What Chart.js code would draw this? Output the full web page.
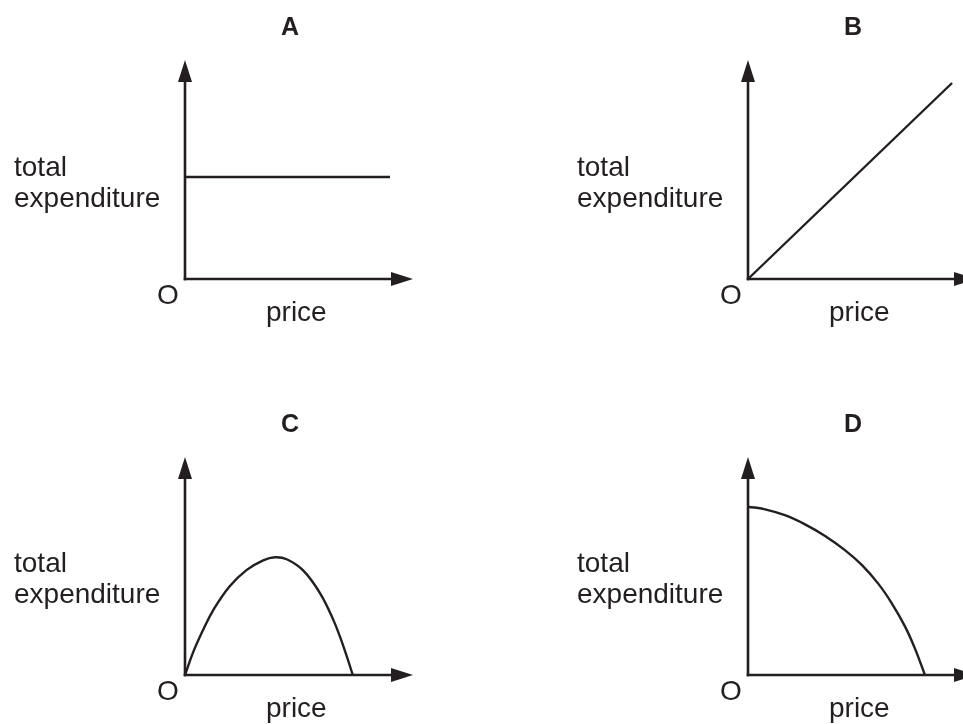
<!DOCTYPE html>
<html>
<head>
<meta charset="utf-8">
<script src="https://cdn.jsdelivr.net/npm/chart.js@4/dist/chart.umd.min.js"></script>
<style>
  html, body { margin: 0; padding: 0; background: #fff; width: 963px; height: 724px; overflow: hidden; position: relative; }
  canvas { position: absolute; left: 0; top: 0; }
</style>
</head>
<body>
<canvas id="cA" width="1000" height="724"></canvas>
<canvas id="cB" width="1000" height="724"></canvas>
<canvas id="cC" width="1000" height="724"></canvas>
<canvas id="cD" width="1000" height="724"></canvas>
<script>
// ---- data ----
const panelTitles = ['A', 'B', 'C', 'D'];
const yAxisLabelLines = ['total', 'expenditure'];
const xAxisLabel = 'price';
const originLabel = 'O';

const curveA_x = [0, 89.9];
const curveA_y = [46.6, 46.6];

const curveB_x = [0, 89.5];
const curveB_y = [0, 89.5];

const curveC_x = [0, 3.6, 8.0, 12.4, 19.7, 27.1, 34.3, 39.5, 44.6, 51.9, 59.2, 65.0, 69.4, 73.6];
const curveC_y = [0, 10.5, 20.8, 29.8, 40.8, 48.2, 52.6, 54.0, 53.1, 47.9, 37.6, 25.4, 13.4, 0];

const curveD_x = [0, 7.5, 16.2, 25.0, 33.8, 42.5, 49.9, 57.2, 63.0, 68.9, 73.2, 77.6];
const curveD_y = [77.2, 76.0, 73.3, 69.1, 63.8, 57.3, 50.5, 41.8, 33.0, 22.2, 12.2, 0];

// ---- styling ----
const INK = '#231f20';
const FONT = '"Liberation Sans", Arial, Helvetica, sans-serif';

const panels = [
  { id: 'cA', title: panelTitles[0], xs: curveA_x, ys: curveA_y, pad: { left: 185, top: 60, right: 587, bottom: 445 }, smooth: false },
  { id: 'cB', title: panelTitles[1], xs: curveB_x, ys: curveB_y, pad: { left: 748, top: 60, right: 24, bottom: 445 }, smooth: false },
  { id: 'cC', title: panelTitles[2], xs: curveC_x, ys: curveC_y, pad: { left: 185, top: 457, right: 587, bottom: 49 }, smooth: true },
  { id: 'cD', title: panelTitles[3], xs: curveD_x, ys: curveD_y, pad: { left: 748, top: 457, right: 24, bottom: 49 }, smooth: true }
];

const axesPlugin = {
  id: 'axesArrows',
  beforeDatasetsDraw(chart, args, opts) {
    const ctx = chart.ctx;
    const xs = chart.scales.x, ys = chart.scales.y;
    const ox = xs.getPixelForValue(0), oy = ys.getPixelForValue(0);
    const xt = xs.getPixelForValue(100), yt = ys.getPixelForValue(100);
    ctx.save();
    ctx.strokeStyle = INK;
    ctx.fillStyle = INK;
    ctx.lineWidth = 2.6;
    ctx.lineCap = 'butt';
    // y axis
    ctx.beginPath();
    ctx.moveTo(ox, oy + 1.3);
    ctx.lineTo(ox, yt + 15);
    ctx.stroke();
    ctx.beginPath();
    ctx.moveTo(ox, yt);
    ctx.lineTo(ox - 7, yt + 22);
    ctx.lineTo(ox + 7, yt + 22);
    ctx.closePath();
    ctx.fill();
    // x axis
    ctx.beginPath();
    ctx.moveTo(ox - 1.3, oy);
    ctx.lineTo(xt - 15, oy);
    ctx.stroke();
    ctx.beginPath();
    ctx.moveTo(xt, oy);
    ctx.lineTo(xt - 22, oy - 7);
    ctx.lineTo(xt - 22, oy + 7);
    ctx.closePath();
    ctx.fill();

    // texts
    ctx.textBaseline = 'alphabetic';
    ctx.textAlign = 'center';
    ctx.font = 'bold 25px ' + FONT;
    ctx.fillText(opts.title, ox + 105, yt - 25);

    ctx.font = '28px ' + FONT;
    ctx.textAlign = 'left';
    ctx.fillText(yAxisLabelLines[0], ox - 171, oy - 103);
    ctx.fillText(yAxisLabelLines[1], ox - 171, oy - 72);
    ctx.fillText(originLabel, ox - 28, oy + 25);
    ctx.fillText(xAxisLabel, ox + 81, oy + 42);
    ctx.restore();
  }
};

panels.forEach(p => {
  const pts = p.xs.map((x, i) => ({ x: x, y: p.ys[i] }));
  new Chart(document.getElementById(p.id), {
    type: 'scatter',
    data: {
      datasets: [{
        data: pts,
        showLine: true,
        borderColor: INK,
        borderWidth: 2.4,
        pointRadius: 0,
        fill: false,
        tension: p.smooth ? 0.4 : 0,
        cubicInterpolationMode: 'default',
        clip: 4
      }]
    },
    options: {
      responsive: false,
      devicePixelRatio: 1,
      animation: false,
      layout: { padding: p.pad },
      scales: {
        x: { type: 'linear', min: 0, max: 100, display: false },
        y: { type: 'linear', min: 0, max: 100, display: false }
      },
      plugins: {
        legend: { display: false },
        tooltip: { enabled: false },
        axesArrows: { title: p.title }
      }
    },
    plugins: [axesPlugin]
  });
});
</script>
</body>
</html>
